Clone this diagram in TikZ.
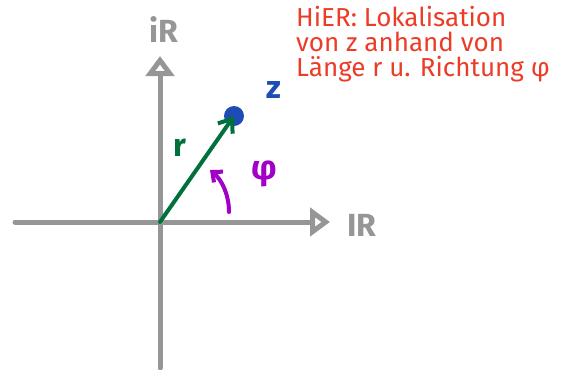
\documentclass[tikz,border=0pt]{standalone}
\usepackage{fontspec}
\setmainfont{Fira Sans}
\usetikzlibrary{arrows.meta, positioning}
\definecolor{axisgray}{RGB}{150,150,150}
\definecolor{vecgreen}{RGB}{0,112,60}
\definecolor{ptblue}{RGB}{30,75,180}
\definecolor{angpurple}{RGB}{160,0,200}
\definecolor{notered}{RGB}{235,60,40}

\begin{document}
\begin{tikzpicture}[x=1pt, y=-1pt, line cap=round, line join=round,
    axis/.style={draw=axisgray, line width=5pt, -{Triangle[open, length=20pt, width=28pt]}},
    lbl/.style={inner sep=0pt, font=\bfseries\fontsize{32}{34}\selectfont}]
    \useasboundingbox (0,0) rectangle (574,370);
    % axes
    \coordinate (xs) at (15,222);
    \coordinate (xe) at (330,222);
    \coordinate (ys) at (160,368);
    \coordinate (ye) at (160,56);
    \coordinate (O) at (160,222);
    \draw[axis] (xs) -- (xe);
    \draw[axis] (ys) -- (ye);
    \node[lbl, text=axisgray] (re) at (362,225) {IR};
    \node[lbl, text=axisgray] (im) at (164,30) {iR};
    % point z with vector r
    \node[circle, fill=ptblue, minimum size=20pt, inner sep=0pt] (z) at (234,116) {};
    \draw[vecgreen, line width=4pt, -{Straight Barb[length=12pt, width=18pt]}] (O) -- (z.center);
    \node[lbl, text=ptblue] (zl) at (274,90) {z};
    \node[lbl, text=vecgreen] (rl) at (180,148) {r};
    % angle phi
    \coordinate (as) at (229,212);
    \coordinate (ae) at (210,170);
    \draw[angpurple, line width=4pt, -{Straight Barb[length=8pt, width=14pt]}] (as) .. controls (229,195) and (222,180) .. (ae);
    \node[lbl, text=angpurple, font=\bfseries\fontsize{34}{36}\selectfont] (phil) at (264,174) {φ};
    % note
    \node[text=notered, anchor=north west, align=left, inner sep=0pt,
          font=\fontsize{26}{25}\selectfont] (note) at (296,6)
          {HiER: Lokalisation\\von z anhand von\\Länge r u. Richtung φ};
\end{tikzpicture}
\end{document}
